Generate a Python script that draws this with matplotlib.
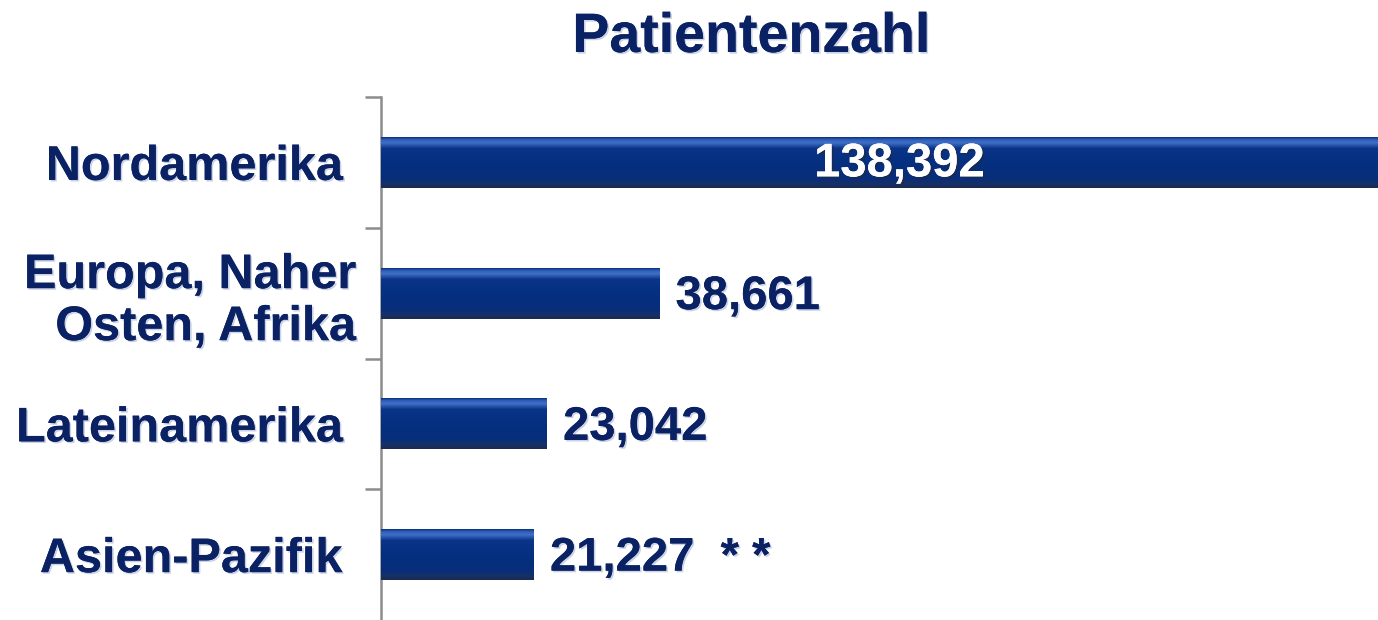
import numpy as np
import matplotlib
matplotlib.use("Agg")
import matplotlib.pyplot as plt
import matplotlib.patheffects as pe
from matplotlib.colors import LinearSegmentedColormap

# Daten
regionen = ["Nordamerika ", "Europa, Naher\nOsten, Afrika", "Lateinamerika ", "Asien-Pazifik "]
patienten = [138392, 38661, 23042, 21227]
wert_texte = ["138,392", "38,661", "23,042", "21,227  * *"]

NAVY = "#0a2163"
GRAU = "#8c8c8c"

plt.rcParams["font.family"] = ["Liberation Sans", "DejaVu Sans"]
plt.rcParams["font.weight"] = "bold"

# Farbverlauf der Balken (oben -> unten)
balken_cmap = LinearSegmentedColormap.from_list(
    "balken",
    [(0.0, "#0b2f78"), (0.05, "#2f5fbc"), (0.11, "#4170c8"), (0.22, "#0a3488"),
     (0.5, "#053080"), (0.82, "#072e7a"), (0.92, "#183066"), (1.0, "#1b2a50")],
)

fig = plt.figure(figsize=(13.78, 6.2), dpi=100)
ax = fig.add_axes([381 / 1378, 0.0, 1 - 381 / 1378, 1 - 97 / 620])

y = np.arange(len(regionen))
bars = ax.barh(y, patienten, height=0.39, color="#053080", zorder=2)

verlauf = np.linspace(0, 1, 256).reshape(-1, 1)
for b in bars:
    x0, y0, w, h = b.get_x(), b.get_y(), b.get_width(), b.get_height()
    im = ax.imshow(verlauf, cmap=balken_cmap, aspect="auto", origin="upper",
                   extent=(x0, x0 + w, y0 + h, y0), zorder=3, interpolation="bilinear")
    im.set_clip_path(b)

schatten = [pe.withSimplePatchShadow(offset=(1.2, -1.2), shadow_rgbFace="#a8b4d4", alpha=0.6),
            pe.Normal()]

for i, (wert, txt) in enumerate(zip(patienten, wert_texte)):
    if i == 0:
        ax.annotate(txt, (wert * 0.52, i), xytext=(0, -2), textcoords="offset pixels",
                    ha="center", va="center", fontsize=34,
                    color="white", fontweight="bold", zorder=5,
                    path_effects=[pe.withSimplePatchShadow(offset=(1.5, -1.5), shadow_rgbFace="#202a40", alpha=0.6),
                                  pe.Normal()])
    else:
        ax.annotate(txt, (wert, i), xytext=(16, -4), textcoords="offset pixels",
                    ha="left", va="center", fontsize=34, color=NAVY,
                    fontweight="bold", zorder=5, path_effects=schatten)

ax.set_xlim(0, max(patienten))
ax.set_ylim(len(regionen) - 0.5, -0.5)

ax.set_yticks(y)
ax.set_yticklabels(regionen, fontsize=35, color=NAVY, fontweight="bold")
ax.tick_params(axis="y", which="major", length=0, pad=18)
for lbl in ax.get_yticklabels():
    lbl.set_path_effects(schatten)
ax.set_yticks(np.arange(-0.5, len(regionen) - 0.5, 1.0), minor=True)
ax.tick_params(axis="y", which="minor", length=11.5, width=1.8, color=GRAU, direction="out")
ax.set_xticks([])

for s in ["top", "right", "bottom"]:
    ax.spines[s].set_visible(False)
ax.spines["left"].set_color(GRAU)
ax.spines["left"].set_linewidth(1.8)

fig.text(751 / 1378, 1 - 38 / 620, "Patientenzahl", ha="center", va="center",
         fontsize=40, fontweight="bold", color=NAVY, path_effects=schatten)

fig.savefig("out.png", dpi=100)
